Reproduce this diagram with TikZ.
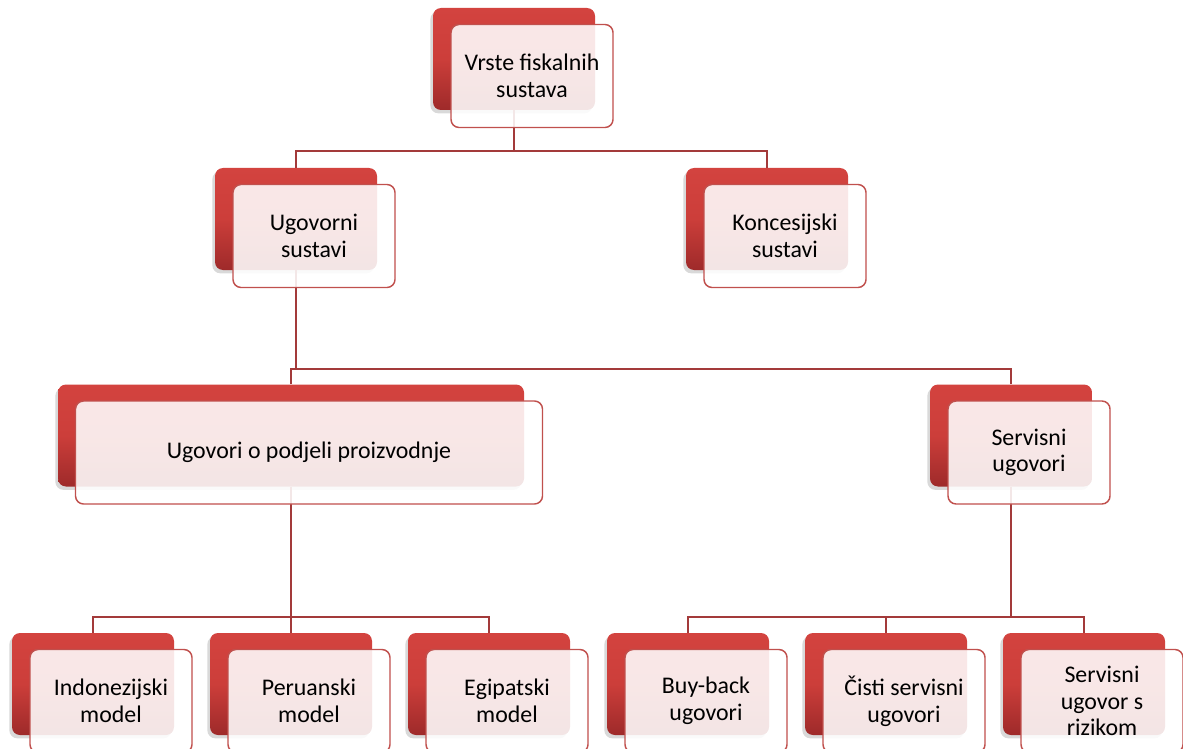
\documentclass[tikz,border=0pt]{standalone}
\usepackage{fontspec}
\setmainfont{Carlito}
\usetikzlibrary{shadows}
\definecolor{redtop}{HTML}{D3433F}
\definecolor{redmid}{HTML}{CC3E3A}
\definecolor{redbot}{HTML}{9E2A2A}
\definecolor{frontborder}{HTML}{C0504D}
\definecolor{linkcol}{HTML}{A33A3A}
\tikzset{
  backbox/.style={rectangle, rounded corners=6pt, inner sep=0pt,
    minimum width=#1, minimum height=76.5pt,
    top color=redtop, bottom color=redbot, middle color=redmid,
    drop shadow={shadow xshift=-2pt, shadow yshift=-2.5pt, opacity=0.3}},
  backbox/.default=121.5pt,
  frontbox/.style={rectangle, rounded corners=6pt, inner sep=0pt,
    minimum width=#1, minimum height=77.25pt,
    draw=frontborder, line width=1.1pt, fill=white, fill opacity=0.88,
    text opacity=1, text=black, align=center,
    font=\fontsize{17.9}{20}\selectfont},
  frontbox/.default=121.5pt,
  link/.style={draw=linkcol, line width=1.4pt},
}
\begin{document}
\begin{tikzpicture}[x=0.75pt, y=-0.75pt]
\useasboundingbox (0,0) rectangle (1183,749);
% back boxes
\node[backbox] (b0) at (514,59) {};
\node[backbox] (b1) at (296,219) {};
\node[backbox] (b2) at (767,219) {};
\node[backbox=349.5pt] (b3) at (291,435.5) {};
\node[backbox] (b4) at (1011,435.5) {};
\node[backbox] (b5) at (93,684) {};
\node[backbox] (b6) at (291,684) {};
\node[backbox] (b7) at (489,684) {};
\node[backbox] (b8) at (688,684) {};
\node[backbox] (b9) at (886,684) {};
\node[backbox] (b10) at (1084,684) {};
% junctions
\coordinate (j0) at (514,151);
\coordinate (j1) at (296,369);
\coordinate (j3) at (291,617);
\coordinate (j4) at (1011,617);
% connectors
\draw[link] (b0.south) -- (j0) -| (b1.north);
\draw[link] (j0) -| (b2.north);
\draw[link] (b1.south) -- (j1) -| (b3.north);
\draw[link] (j1) -| (b4.north);
\draw[link] (b3.south) -- (j3) -| (b5.north);
\draw[link] (j3) -- (b6.north);
\draw[link] (j3) -| (b7.north);
\draw[link] (b4.south) -- (j4) -| (b8.north);
\draw[link] (j4) -| (b9.north);
\draw[link] (j4) -| (b10.north);
% front boxes
\node[frontbox] (f0) at ([shift={(18,17)}]b0.center) {Vrste fiskalnih\\sustava};
\node[frontbox] (f1) at ([shift={(18,17)}]b1.center) {Ugovorni\\sustavi};
\node[frontbox] (f2) at ([shift={(18,17)}]b2.center) {Koncesijski\\sustavi};
\node[frontbox=350.25pt] (f3) at ([shift={(18,17)}]b3.center) {Ugovori o podjeli proizvodnje};
\node[frontbox] (f4) at ([shift={(18,17)}]b4.center) {Servisni\\ugovori};
\node[frontbox] (f5) at ([shift={(18,17)}]b5.center) {Indonezijski\\model};
\node[frontbox] (f6) at ([shift={(18,17)}]b6.center) {Peruanski\\model};
\node[frontbox] (f7) at ([shift={(18,17)}]b7.center) {Egipatski\\model};
\node[frontbox] (f8) at ([shift={(18,17)}]b8.center) {Buy-back\\ugovori};
\node[frontbox] (f9) at ([shift={(18,17)}]b9.center) {Čisti servisni\\ugovori};
\node[frontbox] (f10) at ([shift={(18,17)}]b10.center) {Servisni\\ugovor s\\rizikom};
\end{tikzpicture}
\end{document}
